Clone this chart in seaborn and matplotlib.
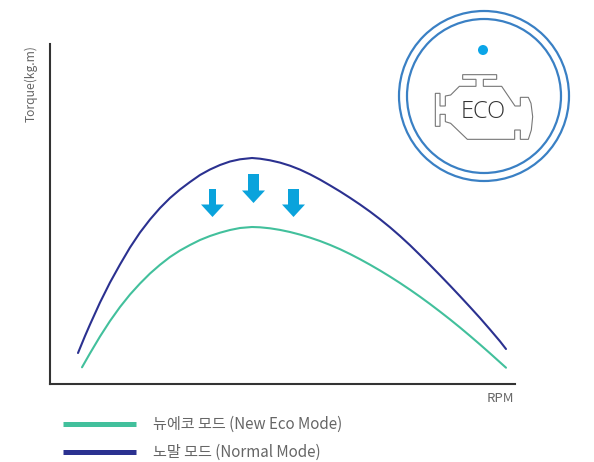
import pandas as pd
import matplotlib
matplotlib.use("Agg")
import matplotlib.pyplot as plt
from matplotlib.patches import Circle, Polygon
import seaborn as sns

# values, in image pixels
normal_rpm = [78, 85, 90, 100, 110, 120, 130, 140, 150, 160, 170, 180, 190, 200, 210, 220, 230, 240, 252,
              260, 270, 280, 290, 300, 310, 320, 330, 340, 350, 360, 370, 380, 390, 400, 410, 420, 430,
              440, 450, 460, 470, 480, 490, 500, 506]
normal_torque = [353, 336, 324.5, 302.5, 282.5, 264.5, 247.5, 232.5, 219.5, 208, 198, 189.5, 182, 175, 169.5, 165, 161.5, 159.3, 158,
                 158.7, 160.3, 162.6, 165.7, 169.6, 174.3, 179.6, 185.4, 191.4, 197.8, 204.5, 211.6, 219.2, 227.3, 236, 245.2, 255, 265,
                 275.2, 285.6, 296.2, 307, 318, 329.5, 341.3, 349]
eco_rpm = [82, 90, 100, 110, 120, 130, 140, 150, 160, 170, 180, 190, 200, 210, 220, 230, 240, 252,
           260, 270, 280, 290, 300, 310, 320, 330, 340, 350, 360, 370, 380, 390, 400, 410, 420, 430,
           440, 450, 460, 470, 480, 490, 500, 506]
eco_torque = [367.3, 353.3, 336.5, 321, 307, 294.5, 283.5, 273.5, 264.8, 257, 250.5, 245, 240, 236, 232.7, 230, 228, 227,
              227.3, 228.3, 229.9, 232, 234.6, 237.6, 241, 244.9, 249.2, 254, 259.2, 264.7, 270.5, 276.6, 283, 289.7, 296.7, 304,
              311.6, 319.4, 327.5, 335.9, 344.5, 353.3, 362.3, 367.7]

eco_label = "뉴에코 모드 (New Eco Mode)"
normal_label = "노말 모드 (Normal Mode)"

GREEN = "#42C09C"
NAVY = "#2B3190"
BLUE = "#0AA3DC"
RING = "#3A80C4"
GREY = "#666666"

sns.set_style("white")
plt.rcParams['font.family'] = ['Noto Sans CJK KR', 'DejaVu Sans']

fig = plt.figure(figsize=(5.94, 4.62), dpi=100)
ax = fig.add_axes([50 / 594, 1 - 384 / 462, 465 / 594, 340 / 462])

df = pd.DataFrame({"rpm": normal_rpm, "torque": normal_torque})
df2 = pd.DataFrame({"rpm": eco_rpm, "torque": eco_torque})
sns.lineplot(data=df, x="rpm", y="torque", color=NAVY, lw=1.5, sort=False, ax=ax)
sns.lineplot(data=df2, x="rpm", y="torque", color=GREEN, lw=1.5, sort=False, ax=ax)

ax.set_xlim(50, 515)
ax.set_ylim(384, 44)
ax.set_xticks([])
ax.set_yticks([])
ax.set_xlabel("")
ax.set_ylabel("")
ax.patch.set_alpha(0)
sns.despine(ax=ax)
for s in ["left", "bottom"]:
    ax.spines[s].set_color("#333333")
    ax.spines[s].set_linewidth(1.5)

ax.text(31, 84, "Torque(kg.m)", rotation=90, ha="center", va="center",
        fontsize=8.7, color=GREY, clip_on=False)
ax.text(514, 399, "RPM", ha="right", va="center", fontsize=9.5, color=GREY, clip_on=False)

# legend drawn by hand to sit under the axis
ax.plot([63, 136], [424, 424], color=GREEN, lw=3.6, clip_on=False, solid_capstyle="butt")
ax.plot([63, 136], [452, 452], color=NAVY, lw=3.6, clip_on=False, solid_capstyle="butt")
ax.text(153, 424, eco_label, va="center", fontsize=10.9, color=GREY, clip_on=False)
ax.text(153, 452, normal_label, va="center", fontsize=10.9, color=GREY, clip_on=False)

# down arrows
arrows = [(212.5, 189, 217, 3.5, 11.5), (253.5, 174, 203, 5.5, 11.5), (293.5, 189, 217, 5.5, 11.5)]
for x, top, tip, sw, hw in arrows:
    head = tip - 12.5
    pts = [(x - sw, top), (x + sw, top), (x + sw, head), (x + hw, head), (x, tip),
           (x - hw, head), (x - sw, head)]
    ax.add_patch(Polygon(pts, closed=True, fc=BLUE, ec="none", clip_on=False))

# eco icon
ax.add_patch(Circle((484, 96), 85, fc="none", ec=RING, lw=1.6, clip_on=False))
ax.add_patch(Circle((484, 96), 77, fc="none", ec=RING, lw=1.6, clip_on=False))
ax.add_patch(Circle((483, 50), 5, fc="#0AA5E8", ec="none", clip_on=False))

engine = [(136, 280), (150, 280), (150, 318), (166, 318), (166, 288), (182, 285), (208, 259),
          (258, 259), (258, 238), (218, 238), (218, 224), (320, 224), (320, 238), (280, 238),
          (280, 259), (335, 259), (375, 318), (391, 318), (391, 292), (415, 292), (423, 310),
          (428, 350), (424, 390), (415, 418), (391, 418), (391, 390), (374, 390), (374, 418),
          (232, 418), (182, 370), (166, 365), (166, 343), (150, 343), (150, 379), (136, 379)]
engine_px = [(390 + a / 3, b / 3) for a, b in engine]
ax.add_patch(Polygon(engine_px, closed=True, fc="none", ec="#777777", lw=0.8, clip_on=False))
ax.text(483, 112.5, "ECO", ha="center", va="center", fontsize=17, color="#333333",
        fontweight="light", clip_on=False, family=["Open Sans", "DejaVu Sans"])

fig.savefig("out.png", dpi=100)
